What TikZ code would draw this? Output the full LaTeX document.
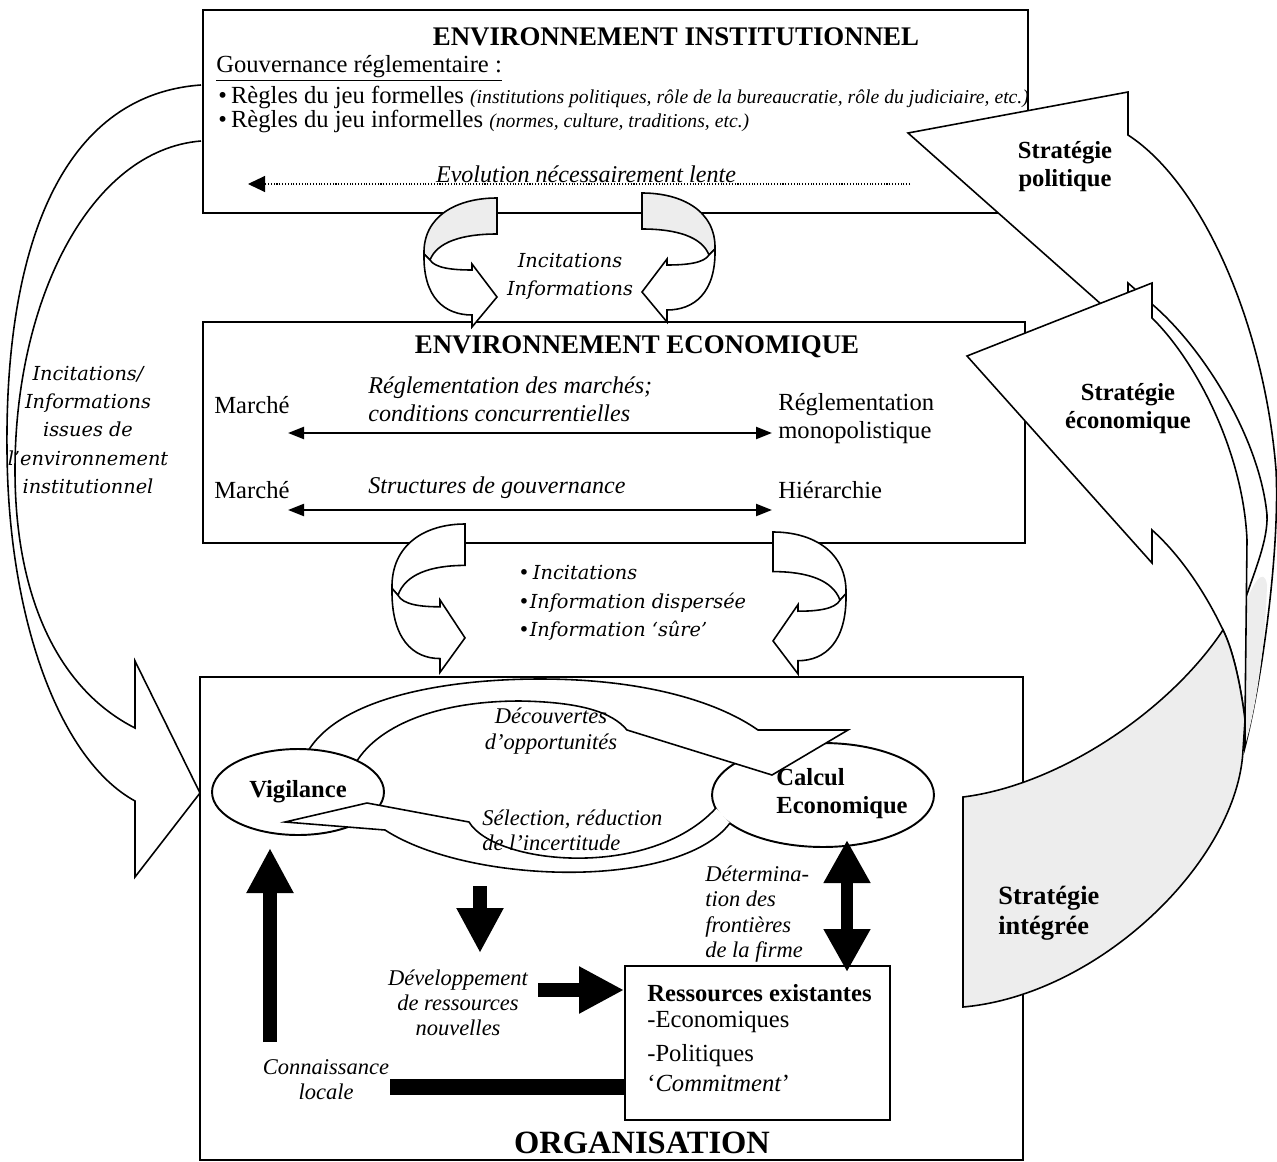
\documentclass[tikz,border=0pt]{standalone}
\usepackage{fontspec}
\setmainfont{Liberation Serif}
\newfontfamily\wideit{DejaVu Serif}
\usetikzlibrary{positioning, arrows.meta, shapes.geometric}
\colorlet{stip}{black!7}
\newcommand{\smallit}{\fontsize{11.2}{13}\selectfont\itshape}

\tikzset{
  levelbox/.style={draw, line width=1.1pt, inner sep=0pt},
  ttl/.style={inner sep=0pt, font=\fontsize{15.3}{18}\selectfont\bfseries},
  bigttl/.style={inner sep=0pt, font=\fontsize{18.5}{20}\selectfont\bfseries},
  txt/.style={inner sep=0pt, font=\fontsize{14}{16}\selectfont},
  boldtxt/.style={inner sep=0pt, font=\fontsize{14}{16}\selectfont\bfseries},
  itx/.style={inner sep=0pt, font=\fontsize{13.7}{16}\selectfont\itshape},
  orgit/.style={inner sep=0pt, font=\fontsize{12.8}{14.4}\selectfont\itshape},
  wide/.style={inner sep=0pt, font=\fontsize{11}{16}\selectfont\wideit\itshape},
  strat/.style={inner sep=0pt, align=center, font=\fontsize{14}{16}\selectfont\bfseries},
  oval/.style={ellipse, draw, line width=1.1pt, fill=white, inner sep=0pt},
  band/.style={draw, line width=0.9pt, fill=white, line join=miter},
  dbl/.style={line width=1.2pt, {Triangle[length=0.32cm,width=0.24cm]}-{Triangle[length=0.32cm,width=0.24cm]}},
  slow/.style={line width=0.6pt, densely dotted, -{Triangle[length=0.34cm,width=0.32cm]}},
  fat/.style={line width=7.8pt, -{Triangle[length=0.9cm,width=0.88cm]}},
  fatdbl/.style={line width=6.8pt, {Triangle[length=0.86cm,width=0.88cm]}-{Triangle[length=0.86cm,width=0.88cm]}},
  thickbar/.style={line width=9pt}
}

% ribbon arrow turning down between two levels
\newcommand{\bentarrow}[4]{%
  \begin{scope}[shift={#1}, xscale=#2, yscale=#3]
    \draw[band, fill=#4] (0,0) .. controls (-40,0) and (-74,18) .. (-73,56)
      -- (-67,62) .. controls (-60,44) and (-35,36) .. (0,36) -- cycle;
    \draw[band] (-73,56) .. controls (-74,100) and (-52,117) .. (-25,117)
      -- (-25,129) -- (0,99) -- (-25,66) -- (-25,72)
      .. controls (-45,72) and (-62,70) .. (-67,62) -- cycle;
  \end{scope}}

\begin{document}
\begin{tikzpicture}[x=0.02cm, y=-0.02cm]
\useasboundingbox (0,0) rectangle (1277,1162);

% the three levels
\node[levelbox, minimum width=16.5cm, minimum height=4.06cm] (inst) at (615.5,111.5) {};
\node[levelbox, minimum width=16.44cm, minimum height=4.42cm] (econ) at (614,432.5) {};
\node[levelbox, minimum width=16.46cm, minimum height=9.66cm] (org) at (611.5,918.5) {};

% left arrow
\draw[band] (201,85) .. controls (60,95) and (5,250) .. (7,450)
  .. controls (8,620) and (60,760) .. (135,801) -- (135,877) -- (200,793)
  -- (135,661) -- (135,728) .. controls (60,690) and (15,600) .. (15,470)
  .. controls (15,300) and (90,150) .. (201,141);

% ribbons between levels
\bentarrow{(497,198)}{1}{1}{stip}
\bentarrow{(642,193)}{-1}{1}{stip}
\bentarrow{(465,524)}{1}{1.15}{white}
\bentarrow{(773,532)}{-1}{1.1}{white}

% strategies on the right
\draw[band] (908,133) -- (1128,92) -- (1128,135)
  .. controls (1205,185) and (1265,330) .. (1276,470)
  .. controls (1280,550) and (1262,680) .. (1245,747) -- (1245,600)
  .. controls (1255,570) and (1268,540) .. (1267,515)
  .. controls (1260,440) and (1205,350) .. (1153,305)
  -- (1128,283) -- (1128,328) -- cycle;
\fill[stip] (1246,603) -- (1246,742) .. controls (1258,700) and (1265,640) .. (1267,585)
  .. controls (1264,565) and (1252,585) .. cycle;
\draw[band] (967,356) -- (1152,283) -- (1152,318)
  .. controls (1195,360) and (1243,450) .. (1247,540) -- (1245,720)
  .. controls (1240,680) and (1232,648) .. (1223,630)
  .. controls (1205,592) and (1180,555) .. (1152,530) -- (1152,563) -- cycle;
\draw[band, fill=stip] (963,797) .. controls (1060,785) and (1170,710) .. (1223,630)
  .. controls (1232,648) and (1240,680) .. (1245,720) -- (1243,750)
  .. controls (1238,860) and (1100,995) .. (963,1007) -- cycle;

% organisation
\node[oval, minimum width=4.44cm, minimum height=2.08cm] (calc) at (823,795) {};
\draw[band] (300,770) .. controls (318,700) and (440,679) .. (540,679)
  .. controls (640,679) and (715,700) .. (758,730) -- (848,730) -- (772,775)
  -- (627,730) .. controls (612,712) and (580,702) .. (520,701)
  .. controls (430,701) and (370,730) .. (352,770);
\node[oval, boldtxt, minimum width=3.44cm, minimum height=1.72cm] (vig) at (298,792) {Vigilance};
\draw[band] (730,823) .. controls (680,890) and (470,885) .. (385,830)
  -- (285,822) -- (367,803) -- (469,822)
  .. controls (495,865) and (650,880) .. (716,808);
\node[boldtxt, align=left] (calcT) at (842,794) {Calcul\\Economique};

\node[levelbox, fill=white, minimum width=5.3cm, minimum height=3.08cm] (ress) at (757.5,1043) {};
\node[boldtxt, anchor=west] (resT) at (647,993) {Ressources existantes};
\node[txt, anchor=west] (resE) at (647,1022) {-Economiques};
\node[txt, anchor=west] (resP) at (647,1056) {-Politiques};
\node[txt, anchor=west] (resC) at (647,1083) {‘\textit{Commitment}’};

\coordinate (ckB) at (270,1042);
\coordinate (ckT) at (270,848);
\draw[fat] (ckB) -- (ckT);
\coordinate (dvT) at (480,886);
\coordinate (dvB) at (480,953);
\draw[fat] (dvT) -- (dvB);
\coordinate (dvR) at (538,990);
\draw[fat] (dvR) -- (ress.west |- dvR);
\coordinate (frT) at (847,840);
\coordinate (frB) at (847,972);
\draw[fatdbl] (frT) -- (frB);
\coordinate (clL) at (390,1087);
\draw[thickbar] (clL) -- (ress.west |- clL);

\node[orgit, align=center] (decouv) at (551,731) {Découvertes\\d’opportunités};
\node[orgit, align=left, anchor=west] (select) at (482,830) {Sélection, réduction\\de l’incertitude};
\node[orgit, align=left, anchor=west] (front) at (705,914) {Détermina-\\tion des\\frontières\\de la firme};
\node[orgit, align=center] (devel) at (458,1003) {Développement\\de ressources\\nouvelles};
\node[orgit, align=center] (connais) at (326,1080) {Connaissance\\locale};
\node[bigttl] (orgT) at (642,1143) {ORGANISATION};

% institutional box
\node[ttl] (instT) at (676,37) {ENVIRONNEMENT INSTITUTIONNEL};
\node[txt, anchor=west] (gouv) at (216,68) {\underline{Gouvernance réglementaire :}};
\node[txt, anchor=west] (form) at (218,97) {•\,Règles du jeu formelles {\smallit(institutions politiques, rôle de la bureaucratie, rôle du judiciaire, etc.)}};
\node[txt, anchor=west] (inform) at (218,121) {•\,Règles du jeu informelles {\smallit(normes, culture, traditions, etc.)}};
\coordinate (evR) at (910,184);
\coordinate (evL) at (248,184);
\draw[slow] (evR) -- (evL);
\node[itx, anchor=base] (evol) at (586,183) {Evolution nécessairement lente};

% economic box
\node[ttl] (econT) at (637,347) {ENVIRONNEMENT ECONOMIQUE};
\node[txt, anchor=west] (mk1) at (214,405) {Marché};
\node[itx, anchor=west, align=left] (regm) at (368,399) {Réglementation des marchés;\\conditions concurrentielles};
\node[txt, anchor=west, align=left] (mono) at (778,419) {Réglementation\\monopolistique};
\coordinate (r1L) at (288,433);
\coordinate (r1R) at (772,433);
\draw[dbl] (r1L) -- (r1R);
\node[txt, anchor=west] (mk2) at (214,490) {Marché};
\node[itx, anchor=west] (struct) at (368,488) {Structures de gouvernance};
\node[txt, anchor=west] (hier) at (778,490) {Hiérarchie};
\coordinate (r2L) at (288,510);
\coordinate (r2R) at (772,510);
\draw[dbl] (r2L) -- (r2R);

% flows between levels
\node[wide, align=center] (incit1) at (570,276) {Incitations\\Informations};
\node[wide, align=left, anchor=west] (incit2) at (518,603) {•\,Incitations\\•Information dispersée\\•Information ‘sûre’};
\node[wide, align=center] (incit0) at (88,430) {Incitations/\\Informations\\issues de\\l’environnement\\institutionnel};

% strategy labels
\node[strat] (spol) at (1065,167) {Stratégie\\politique};
\node[strat] (seco) at (1128,409) {Stratégie\\économique};
\node[strat, align=left, anchor=west, font=\fontsize{15}{17}\selectfont\bfseries] (sint) at (998,913) {Stratégie\\intégrée};
\end{tikzpicture}
\end{document}
